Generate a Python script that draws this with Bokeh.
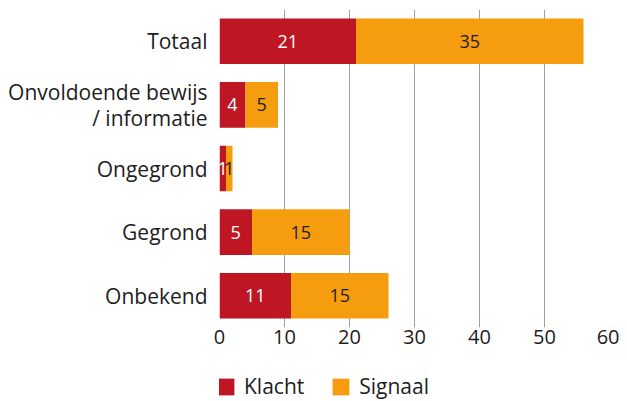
from bokeh.plotting import figure
from bokeh.models import ColumnDataSource, FactorRange, Legend, LegendItem, FixedTicker, Range1d
from bokeh.layouts import column
from bokeh.core.properties import value
from bokeh.embed import file_html
from bokeh.resources import INLINE

categories = ["Totaal", "Onvoldoende bewijs\n/ informatie", "Ongegrond", "Gegrond", "Onbekend"]
klacht = [21, 4, 1, 5, 11]
signaal = [35, 5, 1, 15, 15]
x_ticks = [0, 10, 20, 30, 40, 50, 60]
series = ["Klacht", "Signaal"]

RED = "#BE1622"
ORANGE = "#F59C0F"
TXT = "#1d1d1b"
FONT = "Open Sans"

src = ColumnDataSource(dict(
    cat=categories,
    k_end=klacht,
    s_end=[a + b for a, b in zip(klacht, signaal)],
    k_mid=[a / 2 for a in klacht],
    s_mid=[a + b / 2 for a, b in zip(klacht, signaal)],
    k_lab=[str(a) for a in klacht],
    s_lab=[str(b) for b in signaal],
))

p = figure(width=619, height=355, output_backend="svg", toolbar_location=None,
           y_range=FactorRange(*list(reversed(categories))),
           x_range=Range1d(0, 60),
           min_border_left=219, min_border_right=10, min_border_top=9, min_border_bottom=28)
p.outline_line_color = None
p.background_fill_color = None
p.border_fill_color = None

r1 = p.hbar(y="cat", left=0, right="k_end", height=0.717, color=RED, line_color=None, source=src)
r2 = p.hbar(y="cat", left="k_end", right="s_end", height=0.717, color=ORANGE, line_color=None, source=src)

p.text(x="k_mid", y="cat", text="k_lab", source=src, text_color="white",
       text_font=value(FONT), text_font_size="18px", text_align="center", text_baseline="middle")
p.text(x="s_mid", y="cat", text="s_lab", source=src, text_color=TXT,
       text_font=value(FONT), text_font_size="18px", text_align="center", text_baseline="middle")

p.xaxis.ticker = FixedTicker(ticks=x_ticks)
p.xaxis.axis_line_color = None
p.xaxis.major_tick_line_color = None
p.xaxis.minor_tick_line_color = None
p.xaxis.major_tick_out = 0
p.xaxis.major_label_standoff = 2
p.xaxis.major_label_text_font = FONT
p.xaxis.major_label_text_font_size = "20px"
p.xaxis.major_label_text_color = TXT

p.yaxis.axis_line_color = None
p.yaxis.major_tick_line_color = None
p.yaxis.minor_tick_line_color = None
p.yaxis.major_tick_out = 0
p.yaxis.major_label_standoff = 12
p.yaxis.major_label_text_font = FONT
p.yaxis.major_label_text_font_size = "21px"
p.yaxis.major_label_text_color = TXT
p.yaxis.major_label_text_line_height = 0.9

p.ygrid.grid_line_color = None
p.xgrid.grid_line_color = "#a0a0a0"
p.xgrid.grid_line_width = 1

# legend-only strip below the chart
lg = figure(width=619, height=45, output_backend="svg", toolbar_location=None,
            x_range=Range1d(0, 1), y_range=Range1d(0, 1),
            min_border_left=0, min_border_right=0, min_border_top=0, min_border_bottom=0)
lg.outline_line_color = None
lg.background_fill_color = None
lg.border_fill_color = None
lg.axis.visible = False
lg.grid.visible = False
# zero-size stand-ins so the legend can draw its swatches
lr1 = lg.hbar(y="k_end", left=0, right=0, height=0, color=RED, line_color=None, source=src)
lr2 = lg.hbar(y="s_end", left=0, right=0, height=0, color=ORANGE, line_color=None, source=src)

legend = Legend(items=[LegendItem(label=series[0], renderers=[lr1], index=0),
                       LegendItem(label=series[1], renderers=[lr2], index=0)],
                orientation="horizontal", location=(-4, 0),
                glyph_width=21, glyph_height=21, label_standoff=8, spacing=26,
                padding=0, margin=0, border_line_color=None, background_fill_alpha=0,
                label_text_font=FONT, label_text_font_size="21px", label_text_color=TXT,
                label_height=21)
lg.add_layout(legend, "center")

layout = column(p, lg, spacing=0)
open("out.html", "w").write(file_html(layout, INLINE))
